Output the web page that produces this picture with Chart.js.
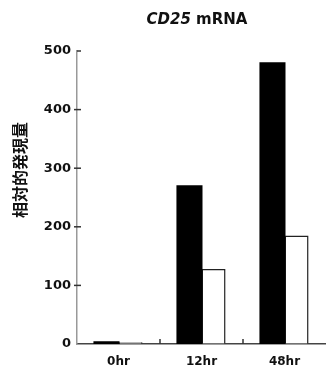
<!DOCTYPE html>
<html>
<head>
<meta charset="utf-8">
<script src="https://cdn.jsdelivr.net/npm/chart.js@4/dist/chart.umd.min.js"></script>
<style>
html,body{margin:0;padding:0;background:#fff;}
canvas{display:block;}
</style>
</head>
<body>
<canvas id="c" width="326" height="365"></canvas>
<script>
const categories = ['0hr', '12hr', '48hr'];
const seriesBlack = [3, 269, 479];
const seriesWhite = [3, 128, 185];
const yTicks = [0, 100, 200, 300, 400, 500];
const titleItalic = 'CD25';
const titleRest = ' mRNA';
const yTitle = '相対的発現量';

const decor = {
  id: 'decor',
  afterDraw(chart) {
    const ctx = chart.ctx;
    const x = chart.scales.x, y = chart.scales.y;
    const ca = chart.chartArea;
    ctx.save();
    ctx.strokeStyle = '#333';
    ctx.lineWidth = 1.5;
    yTicks.forEach(v => {
      if (v === 0) return;
      const py = y.getPixelForValue(v);
      ctx.beginPath();
      ctx.moveTo(v === 500 ? ca.left : ca.left - 3, py);
      ctx.lineTo(ca.left + 4, py);
      ctx.stroke();
    });
    for (let i = 0; i < categories.length - 1; i++) {
      const px = (x.getPixelForTick(i) + x.getPixelForTick(i + 1)) / 2;
      ctx.beginPath();
      ctx.moveTo(px, ca.bottom);
      ctx.lineTo(px, ca.bottom - 5);
      ctx.stroke();
    }
    ctx.fillStyle = '#111';
    ctx.textBaseline = 'middle';
    const fItal = 'italic bold 15px "DejaVu Sans"';
    const fBold = 'bold 15px "DejaVu Sans"';
    ctx.font = fItal;
    const w1 = ctx.measureText(titleItalic).width;
    ctx.font = fBold;
    const w2 = ctx.measureText(titleRest).width;
    const cx = 197;
    let sx = cx - (w1 + w2) / 2;
    ctx.textAlign = 'left';
    ctx.font = fItal;
    ctx.fillText(titleItalic, sx, 20);
    ctx.font = fBold;
    ctx.fillText(titleRest, sx + w1, 20);
    ctx.translate(20, 170);
    ctx.rotate(-Math.PI / 2);
    ctx.textAlign = 'center';
    ctx.font = 'bold 16px "Noto Sans CJK JP"';
    ctx.fillText(yTitle, 0, 0);
    ctx.restore();
  }
};

new Chart(document.getElementById('c'), {
  type: 'bar',
  data: {
    labels: categories,
    datasets: [
      { data: seriesBlack, backgroundColor: '#000', borderColor: '#000', borderWidth: 0, inflateAmount: 1, categoryPercentage: 0.58, barPercentage: 1.0 },
      { data: seriesWhite, backgroundColor: '#fff', borderColor: '#222', borderWidth: 1.5, inflateAmount: 0, categoryPercentage: 0.58, barPercentage: 1.0 }
    ]
  },
  options: {
    responsive: false,
    animation: false,
    devicePixelRatio: 1,
    layout: { padding: { top: 51, left: 0, right: 0, bottom: 0 } },
    plugins: { legend: { display: false }, title: { display: false }, tooltip: { enabled: false } },
    scales: {
      x: {
        grid: { display: true, drawOnChartArea: false, drawTicks: false },
        border: { display: true, color: '#444', width: 1.5 },
        ticks: { color: '#111', font: { family: 'DejaVu Sans', weight: 'bold', size: 12 }, padding: 11 },
        afterFit(s) { s.height = 21; }
      },
      y: {
        min: 0, max: 500,
        grid: { display: true, drawOnChartArea: false, drawTicks: false },
        border: { display: true, color: '#999', width: 1.5 },
        ticks: { stepSize: 100, color: '#111', font: { family: 'DejaVu Sans', weight: 'bold', size: 13 }, padding: 6 },
        afterFit(s) { s.width = 77; }
      }
    }
  },
  plugins: [decor]
});
</script>
</body>
</html>
